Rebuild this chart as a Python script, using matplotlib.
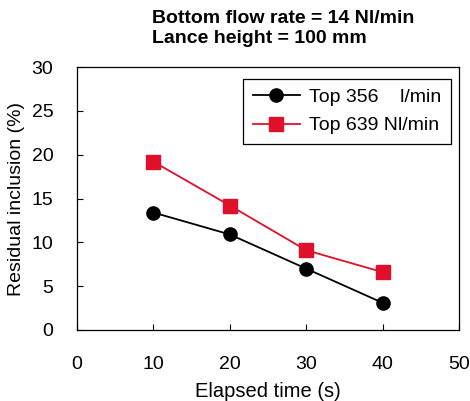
import matplotlib.pyplot as plt

plt.rcParams['font.family'] = ['Liberation Sans', 'DejaVu Sans']

time = [10, 20, 30, 40]
top_356 = [13.4, 10.9, 7.0, 3.1]
top_639 = [19.2, 14.2, 9.1, 6.6]

fig = plt.figure(figsize=(4.7, 4.01), dpi=100)
ax = fig.add_axes([77 / 470, 1 - 330 / 401, 382 / 470, 263 / 401])

ax.plot(time, top_356, color='black', marker='o', markersize=9.5, lw=1.3,
        label='Top 356    l/min')
ax.plot(time, top_639, color='#e0102a', marker='s', markersize=9.5, lw=1.3,
        markeredgecolor='#e0102a', label='Top 639 Nl/min')

ax.set_xlim(0, 50)
ax.set_ylim(0, 30)
ax.set_xticks([0, 10, 20, 30, 40, 50])
ax.set_yticks([0, 5, 10, 15, 20, 25, 30])
ax.tick_params(direction='in', length=4, labelsize=14, width=0.8)
ax.tick_params(axis='x', pad=19)
ax.tick_params(axis='y', pad=17)
for s in ax.spines.values():
    s.set_linewidth(0.9)

ax.set_xlabel('Elapsed time (s)', fontsize=14.5, labelpad=6)
ax.set_ylabel('Residual inclusion (%)', fontsize=14, labelpad=5)

leg = ax.legend(loc='upper right', fontsize=14, frameon=True, fancybox=False,
                edgecolor='black', framealpha=1, handlelength=2.4,
                handletextpad=0.5, borderpad=0.5, labelspacing=0.55,
                borderaxespad=0, bbox_to_anchor=(0.98, 0.955))
leg.get_frame().set_linewidth(0.9)

fig.text(152 / 470, 0.975, 'Bottom flow rate = 14 Nl/min\nLance height = 100 mm',
         fontsize=14, fontweight='bold', ha='left', va='top',
         multialignment='left', linespacing=1.25)

fig.savefig('out.png', dpi=100)
